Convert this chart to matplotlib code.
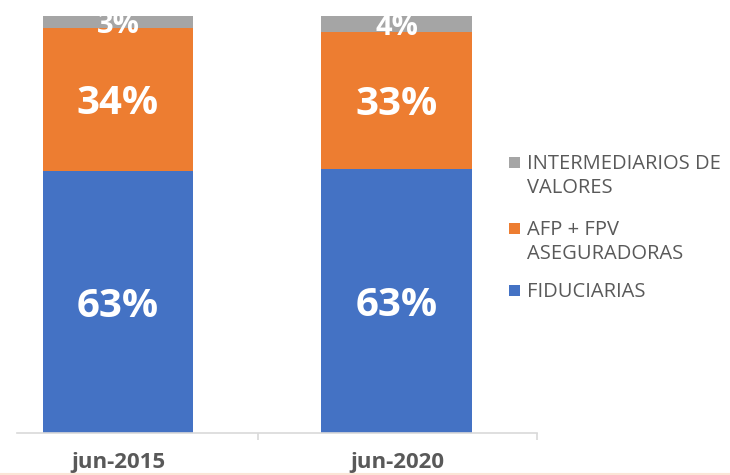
import matplotlib.pyplot as plt
from matplotlib.patches import Rectangle
from matplotlib.lines import Line2D

# data (share of total, %)
periods = ['jun-2015', 'jun-2020']
fiduciarias = [62.8, 63.4]
afp_aseg = [34.4, 32.8]
intermediarios = [2.8, 3.8]

series_names = ['FIDUCIARIAS', 'AFP + FPV\nASEGURADORAS', 'INTERMEDIARIOS DE\nVALORES']
colors = ['#4472C4', '#ED7D31', '#A5A5A5']
text_color = '#595959'
fam = ['Open Sans', 'DejaVu Sans']

W, H = 730, 475
fig = plt.figure(figsize=(W / 100, H / 100), dpi=100)

# axes in pixel units -> figure fraction
ax_left, ax_right, ax_bottom, ax_top = 17, 537, 433, 16
ax = fig.add_axes([ax_left / W, 1 - ax_bottom / H,
                   (ax_right - ax_left) / W, (ax_bottom - ax_top) / H])

x = [0, 1]
bar_w = 0.541
series = [fiduciarias, afp_aseg, intermediarios]
bottom = [0, 0]
for vals, col in zip(series, colors):
    ax.bar(x, vals, width=bar_w, bottom=bottom, color=col, linewidth=0)
    for xi, b, v in zip(x, bottom, vals):
        size = 29 if v > 10 else 21
        ax.text(xi, b + v / 2, f'{round(v)}%', ha='center', va='center_baseline',
                color='white', fontsize=size, fontweight='bold',
                family=fam, clip_on=False, zorder=5)
    bottom = [b + v for b, v in zip(bottom, vals)]

ax.set_xlim(-0.362, 1.502)
ax.set_ylim(0, 100)
for s in ['top', 'right', 'left']:
    ax.spines[s].set_visible(False)
ax.spines['bottom'].set_color('#D9D9D9')
ax.spines['bottom'].set_linewidth(1.2)
ax.set_yticks([])
ax.set_xticks([0.502, 1.502])
ax.set_xticklabels([])
ax.tick_params(axis='x', length=5, color='#D9D9D9', width=1.2)
for xi, lab in zip(x, periods):
    ax.text(xi, -0.07, lab, transform=ax.get_xaxis_transform(), ha='center',
            va='center', fontsize=16, fontweight='bold', color=text_color,
            family=fam)

# legend (drawn manually, square aligned with first line)
leg_rows = [(2, 163), (1, 229), (0, 291)]
for idx, ypix in leg_rows:
    fig.add_artist(Rectangle((509 / W, 1 - (ypix + 5) / H), 11 / W, 11 / H,
                             transform=fig.transFigure, color=colors[idx], lw=0))
    fig.text(527 / W, 1 - (ypix - 9) / H, series_names[idx], ha='left', va='top',
             fontsize=14.5, color=text_color, linespacing=1.25,
             family=fam)

# faint bottom border
fig.add_artist(Line2D([0, 1], [1.5 / H, 1.5 / H], transform=fig.transFigure,
                      color='#FBE5D6', lw=1.5))

fig.savefig('out.png', dpi=100)
